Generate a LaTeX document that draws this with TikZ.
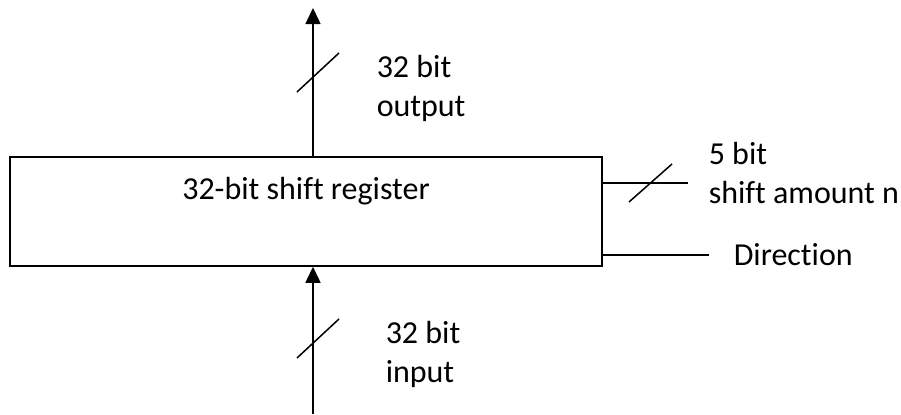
\documentclass[tikz,border=0pt]{standalone}
\usepackage{fontspec}
\setmainfont[Ligatures=CommonOff]{Carlito}
\usepackage{tikz}
\usetikzlibrary{positioning, arrows.meta}

\begin{document}
\begin{tikzpicture}[x=0.5pt, y=0.5pt, line width=0.75pt,
    every node/.style={font=\fontsize{16}{19.5}\selectfont, inner sep=0pt},
    regbox/.style={draw, minimum width=296pt, minimum height=54.5pt},
    busarrow/.style={-{Triangle[length=8pt, width=7.5pt]}},
    sig/.style={align=left, anchor=west}]
    \useasboundingbox (0,0) rectangle (901,414);

    % the register block
    \node[regbox] (reg) at (306,202.5) {};
    \node (regname) at (306,223) {32-bit shift register};

    % data in and out
    \coordinate (dout) at (313,406);
    \coordinate (din) at (313,0);
    \draw[busarrow] (reg.north -| dout) -- (dout);
    \draw[busarrow] (din) -- (reg.south -| din);
    \draw (297,322) -- (339,361);
    \draw (297,56) -- (339,95);
    \node[sig] (outlbl) at (376,326) {32 bit\\output};
    \node[sig] (inlbl) at (385,60) {32 bit\\input};

    % control inputs
    \coordinate (shend) at (688,231);
    \coordinate (dirend) at (709,159);
    \draw (reg.east |- shend) -- (shend);
    \draw (reg.east |- dirend) -- (dirend);
    \draw (629,212) -- (672,250);
    \node[sig] (shlbl) at (708,240.5) {5 bit\\shift amount n};
    \node[sig] (dirlbl) at (733,159) {Direction};
\end{tikzpicture}
\end{document}
